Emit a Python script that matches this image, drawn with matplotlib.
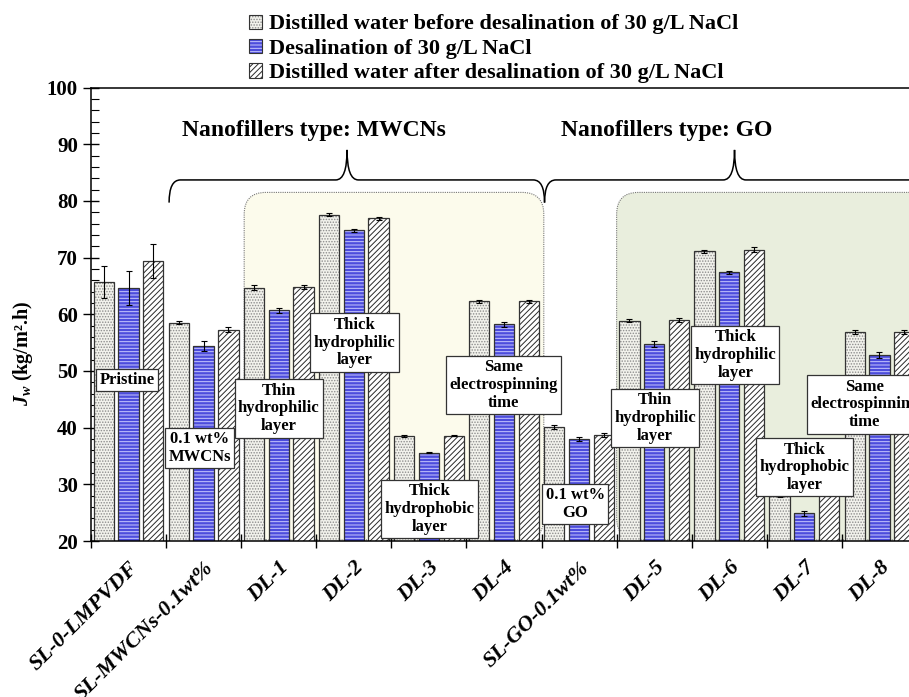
import matplotlib
matplotlib.use("Agg")
import matplotlib.pyplot as plt
import numpy as np
from matplotlib.patches import Patch, FancyBboxPatch, PathPatch
from matplotlib.path import Path

# membranes
samples = ["SL-0-LMPVDF", "SL-MWCNs-0.1wt%", "DL-1", "DL-2", "DL-3", "DL-4",
           "SL-GO-0.1wt%", "DL-5", "DL-6", "DL-7", "DL-8"]

# permeate flux, kg/m2.h
flux_before = [65.7, 58.5, 64.7, 77.6, 38.5, 62.3, 40.1, 58.9, 71.1, 28.0, 56.9]
flux_desal = [64.7, 54.4, 60.7, 74.8, 35.6, 58.2, 38.0, 54.8, 67.4, 24.9, 52.8]
flux_after = [69.4, 57.3, 64.8, 76.9, 38.6, 62.3, 38.7, 59.0, 71.4, 28.2, 56.9]

err_before = [2.9, 0.3, 0.5, 0.2, 0.2, 0.3, 0.3, 0.3, 0.3, 0.3, 0.3]
err_desal = [3.0, 0.9, 0.4, 0.3, 0.1, 0.5, 0.3, 0.5, 0.3, 0.4, 0.5]
err_after = [3.0, 0.4, 0.4, 0.2, 0.1, 0.3, 0.4, 0.3, 0.4, 0.3, 0.3]

series_names = ["Distilled water before desalination of 30 g/L NaCl",
                "Desalination of 30 g/L NaCl",
                "Distilled water after desalination of 30 g/L NaCl"]

# notes written over the bars
notes = ["Pristine", "0.1 wt%\nMWCNs", "Thin\nhydrophilic\nlayer",
         "Thick\nhydrophilic\nlayer", "Thick\nhydrophobic\nlayer",
         "Same\nelectrospinning\ntime", "0.1 wt%\nGO", "Thin\nhydrophilic\nlayer",
         "Thick\nhydrophilic\nlayer", "Thick\nhydrophobic\nlayer",
         "Same\nelectrospinning\ntime"]
note_x = [-0.02, 0.95, 2.0, 3.01, 4.01, 4.99, 5.95, 7.01, 8.08, 9.0, 9.8]
note_y = [48.4, 36.4, 43.4, 55.0, 25.7, 47.5, 26.5, 41.7, 52.8, 33.0, 44.1]

group_titles = ["Nanofillers type: MWCNs", "Nanofillers type: GO"]

plt.rcParams["font.family"] = ["Liberation Serif", "DejaVu Serif"]
plt.rcParams["font.weight"] = "bold"
plt.rcParams["mathtext.fontset"] = "custom"
plt.rcParams["mathtext.it"] = "Liberation Serif:bold:italic"
plt.rcParams["mathtext.rm"] = "Liberation Serif:bold"
plt.rcParams["hatch.linewidth"] = 0.7

fig = plt.figure(figsize=(9.09, 6.97), dpi=100)
ax = fig.add_axes([0.1001, 0.2238, 0.9087, 0.6506])

x = np.arange(len(samples))
w = 0.27
step = 0.33

styles = [
    dict(face="#f2f2ec", hatch="......", hcolor="#8c8c8c"),
    dict(face="#4c4cdc", hatch="-----", hcolor="#c8c8ff"),
    dict(face="#ffffff", hatch="//////", hcolor="#2a2a2a"),
]
values = [flux_before, flux_desal, flux_after]
errors = [err_before, err_desal, err_after]

handles = []
for k, (vals, errs, st) in enumerate(zip(values, errors, styles)):
    pos = x + (k - 1) * step
    ax.bar(pos, vals, w, color=st["face"], linewidth=0, zorder=2)
    ax.bar(pos, vals, w, color="none", edgecolor=st["hcolor"], hatch=st["hatch"],
           linewidth=0, zorder=2.1)
    ax.bar(pos, vals, w, color="none", edgecolor="#333333", linewidth=0.9, zorder=2.2)
    ax.errorbar(pos, vals, yerr=errs, fmt="none", ecolor="black", elinewidth=0.8,
                capsize=2, capthick=0.8, zorder=2.3)
    p1 = Patch(facecolor=st["face"], edgecolor="none")
    p2 = Patch(facecolor="none", edgecolor=st["hcolor"], hatch=st["hatch"], linewidth=0)
    p3 = Patch(facecolor="none", edgecolor="#333333", linewidth=0.8)
    handles.append((p1, p2, p3))

# shaded regions behind the double-layer membranes
for x0, x1, face in [(1.54, 5.53, "#fcfbec"), (6.5, 11.2, "#e9eedd")]:
    box = FancyBboxPatch((x0, 20.2), x1 - x0, 81.5 - 20.2,
                         boxstyle="round,pad=0,rounding_size=0.29",
                         mutation_aspect=13.3, facecolor=face, edgecolor="#777777",
                         linestyle=(0, (1, 1)), linewidth=0.8, zorder=0.5)
    ax.add_patch(box)


def brace(x0, x1, xm, ylow, ymid, ytop):
    verts = [(x0, ylow), (x0, ymid), (x0 + 0.15, ymid),
             (xm - 0.15, ymid), (xm, ymid), (xm, ytop),
             (xm, ymid), (xm + 0.15, ymid),
             (x1 - 0.15, ymid), (x1, ymid), (x1, ylow)]
    codes = [Path.MOVETO, Path.CURVE3, Path.CURVE3,
             Path.LINETO, Path.CURVE3, Path.CURVE3,
             Path.CURVE3, Path.CURVE3,
             Path.LINETO, Path.CURVE3, Path.CURVE3]
    return PathPatch(Path(verts, codes), facecolor="none", edgecolor="black",
                     linewidth=1.1, zorder=3, clip_on=False)


ax.add_patch(brace(0.54, 5.54, 2.91, 79.7, 83.7, 89.0))
ax.add_patch(brace(5.54, 11.0, 8.07, 79.7, 83.7, 89.0))
ax.text(2.47, 92.5, group_titles[0], ha="center", va="center", fontsize=17,
        fontweight="bold", zorder=3)
ax.text(7.17, 92.5, group_titles[1], ha="center", va="center", fontsize=17,
        fontweight="bold", zorder=3)

for txt, tx, ty in zip(notes, note_x, note_y):
    ax.text(tx, ty, txt, ha="center", va="center", fontsize=12, fontweight="bold",
            linespacing=1.15, zorder=4, clip_on=False,
            bbox=dict(boxstyle="square,pad=0.2", facecolor="white",
                      edgecolor="#333333", linewidth=0.9))

ax.set_xlim(-0.5, 10.5)
ax.set_ylim(20, 100)
ax.set_yticks(np.arange(20, 101, 10))
ax.set_yticks(np.arange(20, 101, 2), minor=True)
ax.set_xticks(np.arange(-0.5, 10.6, 1.0))
ax.set_xticklabels([])
ax.set_xticks(x, minor=True)
ax.set_xticklabels(samples, minor=True, rotation=45, ha="right",
                   rotation_mode="anchor", fontsize=16, fontstyle="italic",
                   fontweight="bold")
ax.tick_params(axis="x", which="minor", length=0, pad=12)
ax.tick_params(axis="x", which="major", direction="inout", length=10, width=1)
ax.tick_params(axis="y", which="major", direction="inout", length=12, width=1,
               labelsize=15)
ax.tick_params(axis="y", which="minor", direction="in", length=6, width=0.8)
for lab in ax.get_yticklabels():
    lab.set_fontweight("bold")

for sp in ax.spines.values():
    sp.set_linewidth(1.1)

ax.set_ylabel(r"$J_w$ (kg/m².h)", fontsize=14.5, fontweight="bold")
ax.yaxis.set_label_coords(-0.068, 0.415)

fig.legend(handles, series_names, loc="upper left", bbox_to_anchor=(0.258, 1.0),
           frameon=False, fontsize=16, handlelength=0.6, handleheight=0.6,
           handletextpad=0.3, labelspacing=0.2, borderaxespad=0.25)

fig.savefig("out.png", dpi=100)
